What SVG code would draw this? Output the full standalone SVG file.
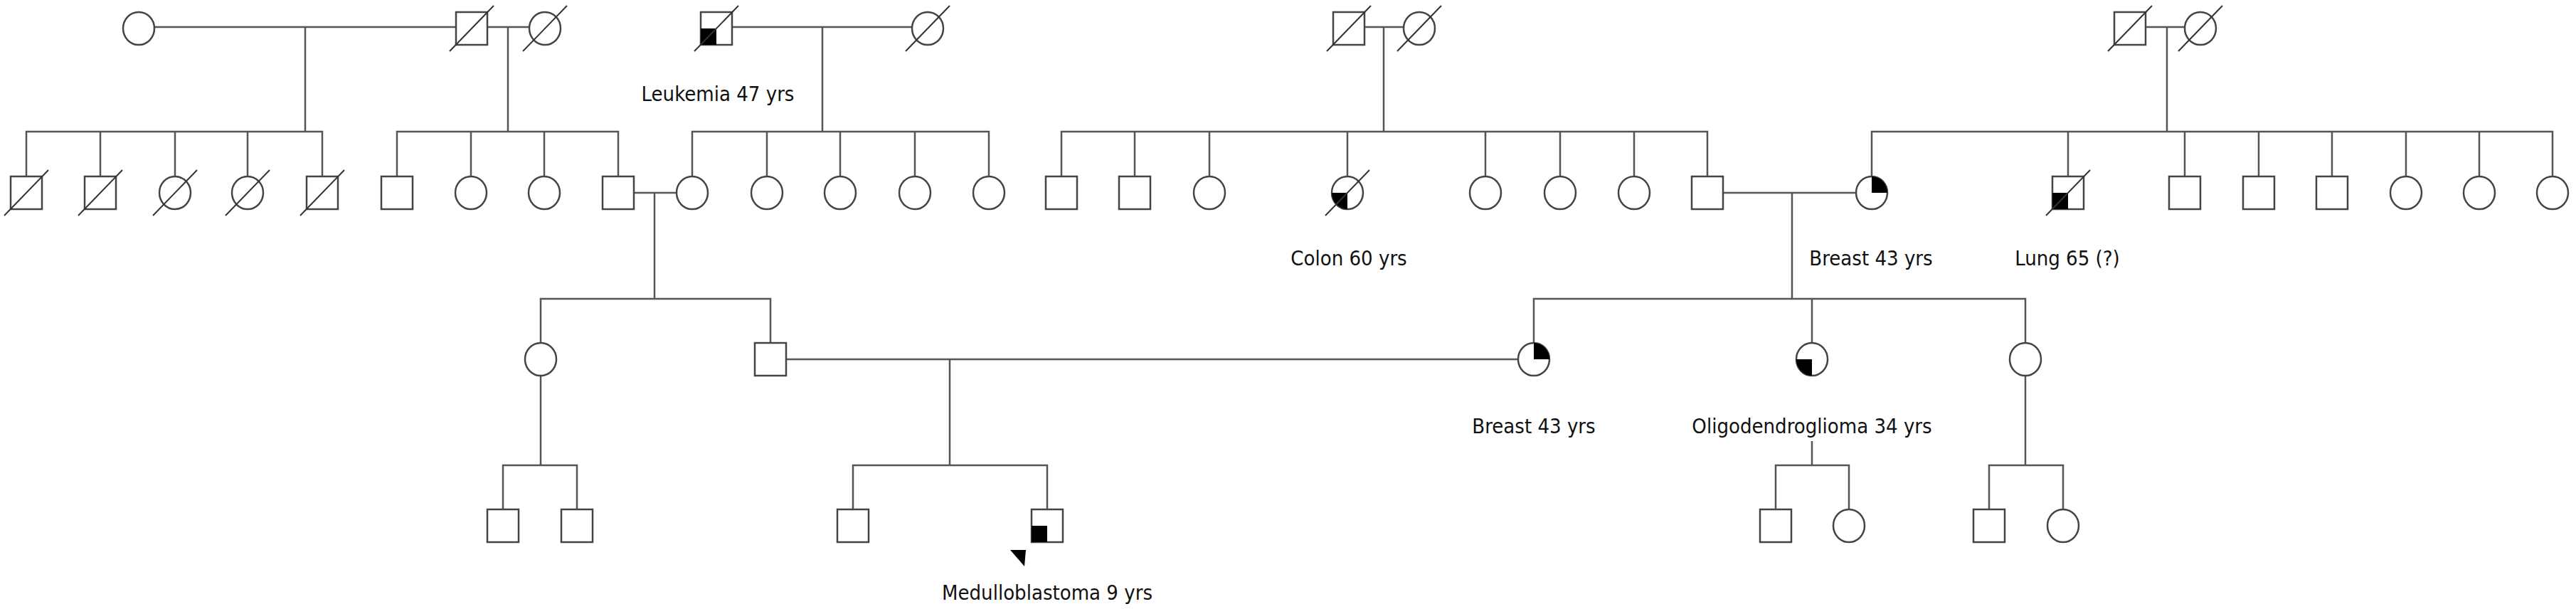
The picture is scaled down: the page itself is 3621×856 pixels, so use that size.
<svg xmlns="http://www.w3.org/2000/svg" width="3621" height="856" viewBox="0 0 3621 856">
<style>
.s{fill:#fff;stroke:#444;stroke-width:2.5}
.f{fill:#000}
.d{stroke:#333;stroke-width:2}
.c line,.c polyline{stroke:#555;stroke-width:2.5;fill:none}
text{font-family:"DejaVu Sans Condensed","DejaVu Sans",sans-serif;font-size:29px;fill:#111;text-anchor:middle}
</style>
<defs>
<rect id="sq" class="s" x="-22" y="-23" width="44" height="46"/>
<ellipse id="ci" class="s" cx="0" cy="0" rx="22" ry="23"/>
<line id="dx" class="d" x1="-31" y1="32" x2="31" y2="-32"/>
<path id="ll" class="f" d="M0,0 L-22,0 L-22,23 L0,23 Z"/>
<path id="llc" class="f" d="M0,0 L-22,0 A22 23 0 0 0 0,23 Z"/>
<path id="urc" class="f" d="M0,0 L22,0 A22 23 0 0 0 0,-23 Z"/>
</defs>
<g class="c" id="connectors">
<line x1="217" y1="38" x2="641" y2="38"/><line x1="429" y1="38" x2="429" y2="185"/>
<line x1="685" y1="38" x2="744" y2="38"/><line x1="714" y1="38" x2="714" y2="185"/>
<line x1="1029" y1="38" x2="1282" y2="38"/><line x1="1156" y1="38" x2="1156" y2="185"/>
<line x1="1918" y1="38" x2="1973" y2="38"/><line x1="1945" y1="38" x2="1945" y2="185"/>
<line x1="3016" y1="38" x2="3071" y2="38"/><line x1="3046" y1="38" x2="3046" y2="185"/>
<polyline points="37,248 37,185 453,185 453,248"/>
<line x1="141" y1="185" x2="141" y2="248"/><line x1="246" y1="185" x2="246" y2="248"/><line x1="348" y1="185" x2="348" y2="248"/>
<polyline points="558,248 558,185 869,185 869,248"/>
<line x1="662" y1="185" x2="662" y2="248"/><line x1="765" y1="185" x2="765" y2="248"/>
<polyline points="973,248 973,185 1390,185 1390,248"/>
<line x1="1078" y1="185" x2="1078" y2="248"/><line x1="1181" y1="185" x2="1181" y2="248"/><line x1="1286" y1="185" x2="1286" y2="248"/>
<polyline points="1492,248 1492,185 2400,185 2400,248"/>
<line x1="1595" y1="185" x2="1595" y2="248"/><line x1="1700" y1="185" x2="1700" y2="248"/><line x1="1894" y1="185" x2="1894" y2="248"/><line x1="2088" y1="185" x2="2088" y2="248"/><line x1="2193" y1="185" x2="2193" y2="248"/><line x1="2297" y1="185" x2="2297" y2="248"/>
<polyline points="2631,248 2631,185 3588,185 3588,248"/>
<line x1="2907" y1="185" x2="2907" y2="248"/><line x1="3071" y1="185" x2="3071" y2="248"/><line x1="3175" y1="185" x2="3175" y2="248"/><line x1="3278" y1="185" x2="3278" y2="248"/><line x1="3382" y1="185" x2="3382" y2="248"/><line x1="3485" y1="185" x2="3485" y2="248"/>
<line x1="891" y1="271" x2="951" y2="271"/><line x1="920" y1="271" x2="920" y2="420"/>
<polyline points="760,482 760,420 1083,420 1083,482"/>
<line x1="2422" y1="271" x2="2609" y2="271"/><line x1="2519" y1="271" x2="2519" y2="420"/>
<polyline points="2156,482 2156,420 2847,420 2847,482"/><line x1="2547" y1="420" x2="2547" y2="482"/>
<line x1="1105" y1="505" x2="2134" y2="505"/><line x1="1335" y1="505" x2="1335" y2="654"/>
<line x1="760" y1="528" x2="760" y2="654"/>
<polyline points="707,716 707,654 811,654 811,716"/>
<polyline points="1199,716 1199,654 1472,654 1472,716"/>
<line x1="2547" y1="620" x2="2547" y2="654"/>
<polyline points="2496,716 2496,654 2599,654 2599,716"/>
<line x1="2847" y1="528" x2="2847" y2="654"/>
<polyline points="2796,716 2796,654 2900,654 2900,716"/>
</g>
<g id="n-g1-1"><use href="#ci" x="195" y="40"/></g>
<g id="n-g1-2"><use href="#sq" x="663" y="40"/><use href="#dx" x="663" y="40"/></g>
<g id="n-g1-3"><use href="#ci" x="766" y="40"/><use href="#dx" x="766" y="40"/></g>
<g id="n-g1-4"><use href="#sq" x="1007" y="40"/><use href="#ll" x="1007" y="40"/><use href="#dx" x="1007" y="40"/></g>
<g id="n-g1-5"><use href="#ci" x="1304" y="40"/><use href="#dx" x="1304" y="40"/></g>
<g id="n-g1-6"><use href="#sq" x="1896" y="40"/><use href="#dx" x="1896" y="40"/></g>
<g id="n-g1-7"><use href="#ci" x="1995" y="40"/><use href="#dx" x="1995" y="40"/></g>
<g id="n-g1-8"><use href="#sq" x="2994" y="40"/><use href="#dx" x="2994" y="40"/></g>
<g id="n-g1-9"><use href="#ci" x="3093" y="40"/><use href="#dx" x="3093" y="40"/></g>
<g id="n-g2-1"><use href="#sq" x="37" y="271"/><use href="#dx" x="37" y="271"/></g>
<g id="n-g2-2"><use href="#sq" x="141" y="271"/><use href="#dx" x="141" y="271"/></g>
<g id="n-g2-3"><use href="#ci" x="246" y="271"/><use href="#dx" x="246" y="271"/></g>
<g id="n-g2-4"><use href="#ci" x="348" y="271"/><use href="#dx" x="348" y="271"/></g>
<g id="n-g2-5"><use href="#sq" x="453" y="271"/><use href="#dx" x="453" y="271"/></g>
<g id="n-g2-6"><use href="#sq" x="558" y="271"/></g>
<g id="n-g2-7"><use href="#ci" x="662" y="271"/></g>
<g id="n-g2-8"><use href="#ci" x="765" y="271"/></g>
<g id="n-g2-9"><use href="#sq" x="869" y="271"/></g>
<g id="n-g2-10"><use href="#ci" x="973" y="271"/></g>
<g id="n-g2-11"><use href="#ci" x="1078" y="271"/></g>
<g id="n-g2-12"><use href="#ci" x="1181" y="271"/></g>
<g id="n-g2-13"><use href="#ci" x="1286" y="271"/></g>
<g id="n-g2-14"><use href="#ci" x="1390" y="271"/></g>
<g id="n-g2-15"><use href="#sq" x="1492" y="271"/></g>
<g id="n-g2-16"><use href="#sq" x="1595" y="271"/></g>
<g id="n-g2-17"><use href="#ci" x="1700" y="271"/></g>
<g id="n-g2-18"><use href="#ci" x="1894" y="271"/><use href="#llc" x="1894" y="271"/><use href="#dx" x="1894" y="271"/></g>
<g id="n-g2-19"><use href="#ci" x="2088" y="271"/></g>
<g id="n-g2-20"><use href="#ci" x="2193" y="271"/></g>
<g id="n-g2-21"><use href="#ci" x="2297" y="271"/></g>
<g id="n-g2-22"><use href="#sq" x="2400" y="271"/></g>
<g id="n-g2-23"><use href="#ci" x="2631" y="271"/><use href="#urc" x="2631" y="271"/></g>
<g id="n-g2-24"><use href="#sq" x="2907" y="271"/><use href="#ll" x="2907" y="271"/><use href="#dx" x="2907" y="271"/></g>
<g id="n-g2-25"><use href="#sq" x="3071" y="271"/></g>
<g id="n-g2-26"><use href="#sq" x="3175" y="271"/></g>
<g id="n-g2-27"><use href="#sq" x="3278" y="271"/></g>
<g id="n-g2-28"><use href="#ci" x="3382" y="271"/></g>
<g id="n-g2-29"><use href="#ci" x="3485" y="271"/></g>
<g id="n-g2-30"><use href="#ci" x="3588" y="271"/></g>
<g id="n-g3-1"><use href="#ci" x="760" y="505"/></g>
<g id="n-g3-2"><use href="#sq" x="1083" y="505"/></g>
<g id="n-g3-3"><use href="#ci" x="2156" y="505"/><use href="#urc" x="2156" y="505"/></g>
<g id="n-g3-4"><use href="#ci" x="2547" y="505"/><use href="#llc" x="2547" y="505"/></g>
<g id="n-g3-5"><use href="#ci" x="2847" y="505"/></g>
<g id="n-g4-1"><use href="#sq" x="707" y="739"/></g>
<g id="n-g4-2"><use href="#sq" x="811" y="739"/></g>
<g id="n-g4-3"><use href="#sq" x="1199" y="739"/></g>
<g id="n-g4-4"><use href="#sq" x="1472" y="739"/><use href="#ll" x="1472" y="739"/><polygon class="f" points="1420,773 1442,773 1440,796"/></g>
<g id="n-g4-5"><use href="#sq" x="2496" y="739"/></g>
<g id="n-g4-6"><use href="#ci" x="2599" y="739"/></g>
<g id="n-g4-7"><use href="#sq" x="2796" y="739"/></g>
<g id="n-g4-8"><use href="#ci" x="2900" y="739"/></g>
<g id="labels">
<text x="1009" y="142">Leukemia 47 yrs</text>
<text x="1896" y="373">Colon 60 yrs</text>
<text x="2630" y="373">Breast 43 yrs</text>
<text x="2906" y="373">Lung 65 (?)</text>
<text x="2156" y="609">Breast 43 yrs</text>
<text x="2547" y="609">Oligodendroglioma 34 yrs</text>
<text x="1472" y="843">Medulloblastoma 9 yrs</text>
</g>
</svg>
